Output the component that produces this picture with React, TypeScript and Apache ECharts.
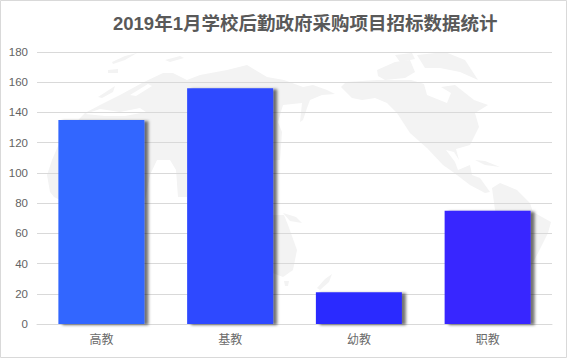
import React, { useEffect, useRef } from "react";
import * as echarts from "echarts";

const titleText = "2019年1月学校后勤政府采购项目招标数据统计";
const categories = ["高教", "基教", "幼教", "职教"];
const values = [135, 156, 21, 75];
const barColors = ["#3366ff", "#2e4aff", "#2b2bff", "#3728ff"];

const FONT = '"Liberation Sans", "Noto Sans CJK SC", sans-serif';
const MAP = "#f3f3f3";

// Faint decorative world map behind the plot (screen coordinates)
const land: number[][][] = [
  // Africa + Eurasia
  [[54, 197], [50, 192], [47, 175], [52, 160], [58, 146], [80, 118], [85, 113], [100, 105], [120, 95], [142, 83], [163, 73], [173, 73], [187, 80], [200, 75], [227, 70], [247, 65], [267, 77], [284, 80], [303, 87], [313, 85], [327, 90], [335, 94], [322, 95], [310, 100], [307, 108], [303, 120], [300, 122], [302, 103], [283, 105], [278, 122], [282, 132], [280, 160], [200, 162], [187, 168], [187, 197], [178, 197], [176, 170], [170, 160], [157, 160], [150, 175], [145, 200], [70, 205]],
  // North America
  [[341, 87], [346, 82], [377, 80], [411, 80], [424, 84], [427, 95], [447, 103], [451, 93], [441, 87], [455, 85], [474, 100], [488, 105], [475, 113], [479, 127], [470, 145], [456, 149], [459, 160], [454, 152], [446, 150], [455, 162], [458, 170], [470, 165], [472, 175], [480, 178], [490, 192], [485, 193], [470, 185], [453, 172], [443, 165], [427, 148], [410, 133], [397, 113], [387, 103], [375, 98], [362, 100], [352, 98]],
  // South America
  [[492, 188], [500, 183], [517, 190], [530, 203], [533, 212], [551, 222], [548, 233], [538, 253], [530, 268], [520, 268], [505, 230], [495, 210]],
  // Australia
  [[270, 215], [284, 215], [288, 225], [297, 250], [293, 270], [283, 277], [270, 272]],
  // New Guinea, New Zealand, Tasmania
  [[283, 213], [296, 217], [302, 223], [290, 221]],
  [[317, 288], [325, 279], [332, 274], [329, 282], [320, 290]],
  [[284, 281], [289, 281], [288, 286], [285, 286]],
  // Greenland and Arctic islands
  [[417, 55], [445, 52], [465, 60], [478, 80], [460, 72], [440, 68], [425, 68]],
  [[377, 70], [395, 62], [410, 60], [415, 72], [405, 78], [385, 80], [378, 76]],
  [[395, 55], [412, 53], [415, 59], [400, 62]],
  // UK, Iceland, Svalbard, Novaya Zemlya
  [[98, 97], [115, 86], [113, 92], [102, 98]],
  [[108, 70], [118, 69], [118, 73], [108, 73]],
  [[112, 62], [125, 56], [137, 53], [125, 60], [113, 64]],
  [[165, 60], [180, 56], [184, 58], [170, 62]],
  // Cuba
  [[475, 160], [485, 161], [500, 167], [485, 165]],
];
// Seas cut back out of the land
const seas: number[][][] = [
  [[85, 114], [100, 109], [120, 112], [140, 108], [146, 112], [125, 116], [105, 116]],
  [[130, 95], [148, 84], [152, 86], [136, 96]],
];

export default function App() {
  const ref = useRef<HTMLDivElement>(null);
  useEffect(() => {
    document.body.style.margin = "0";
    const chart = echarts.init(ref.current!, undefined, { renderer: "svg" });
    const poly = (points: number[][], fill: string, z: number) => ({
      type: "polygon",
      z,
      silent: true,
      shape: { points },
      style: { fill },
    });
    chart.setOption({
      animation: false,
      backgroundColor: "#ffffff",
      title: {
        text: titleText,
        left: 108,
        top: 9,
        textStyle: { fontFamily: FONT, fontSize: 18.5, fontWeight: "bold", color: "#595959" },
      },
      graphic: {
        elements: [
          ...land.map((p) => poly(p, MAP, -2)),
          ...seas.map((p) => poly(p, "#ffffff", -1)),
          {
            type: "rect",
            z: 10,
            silent: true,
            shape: { x: 0.5, y: 0.5, width: 566, height: 357 },
            style: { fill: "none", stroke: "#d9d9d9", lineWidth: 1 },
          },
        ],
      },
      grid: { left: 37, right: 16, top: 52, bottom: 34, containLabel: false },
      xAxis: {
        type: "category",
        data: categories,
        axisTick: { show: false },
        axisLine: { lineStyle: { color: "#d9d9d9", width: 1 } },
        axisLabel: { color: "#6b6b6b", fontSize: 12, fontFamily: FONT, margin: 10 },
      },
      yAxis: {
        type: "value",
        min: 0,
        max: 180,
        interval: 20,
        axisLine: { show: false },
        axisTick: { show: false },
        axisLabel: { color: "#636363", fontSize: 11.5, fontFamily: FONT, margin: 9 },
        splitLine: { lineStyle: { color: "#d9d9d9", width: 1 } },
      },
      series: [
        {
          type: "bar",
          barWidth: 86,
          data: values.map((value, i) => ({ value, itemStyle: { color: barColors[i] } })),
          itemStyle: {
            shadowColor: "rgba(0,0,0,0.55)",
            shadowBlur: 3,
            shadowOffsetX: 4,
            shadowOffsetY: 1,
          },
        },
      ],
    });
    return () => chart.dispose();
  }, []);
  return <div ref={ref} style={{ width: 568, height: 358 }} />;
}
